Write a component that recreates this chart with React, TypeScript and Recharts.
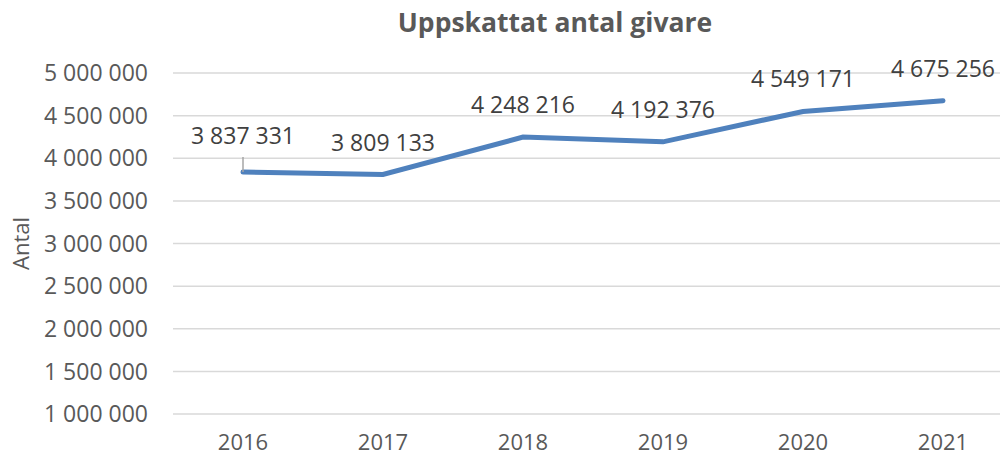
import { CartesianGrid, LabelList, Line, LineChart, XAxis, YAxis } from "recharts";

// Uppskattat antal givare per år
const years = ["2016", "2017", "2018", "2019", "2020", "2021"];
const givare = [3837331, 3809133, 4248216, 4192376, 4549171, 4675256];
const yTicks = [1000000, 1500000, 2000000, 2500000, 3000000, 3500000, 4000000, 4500000, 5000000];

const data = years.map((year, i) => ({ year, antal: givare[i] }));

const FONT = "'Open Sans', sans-serif";

function fmt(v: number): string {
  return String(v).replace(/\B(?=(\d{3})+(?!\d))/g, " ");
}

// Datalabel ovanför punkten; första har en ledarlinje som i Excel.
function PointLabel(props: any) {
  const { x, y, value, index } = props;
  const off = index === 0 ? 28 : 24;
  return (
    <g>
      {index === 0 && (
        <line x1={x} y1={y - 15} x2={x} y2={y} stroke="#a6a6a6" strokeWidth={1.5} />
      )}
      <text
        x={x}
        y={y - off}
        textAnchor="middle"
        fill="#404040"
        fontSize={23}
        fontFamily={FONT}
      >
        {fmt(value)}
      </text>
    </g>
  );
}

export default function App() {
  return (
    <div
      style={{
        position: "fixed",
        left: 0,
        top: 0,
        width: 1000,
        height: 458,
        overflow: "hidden",
        background: "#fff",
        fontFamily: FONT,
      }}
    >
      <div
        style={{
          position: "absolute",
          left: 555,
          top: 9,
          transform: "translateX(-50%)",
          whiteSpace: "nowrap",
          fontSize: 26.5,
          lineHeight: "26.5px",
          fontWeight: 700,
          color: "#595959",
        }}
      >
        Uppskattat antal givare
      </div>
      <LineChart
        width={1020}
        height={458}
        data={data}
        margin={{ top: 73, right: 7, bottom: 0, left: 0 }}
      >
        <CartesianGrid vertical={false} stroke="#d9d9d9" strokeWidth={1.5} />
        <XAxis
          dataKey="year"
          height={44}
          axisLine={false}
          tickLine={false}
          tickSize={0}
          tickMargin={20}
          padding={{ left: 70, right: 70 }}
          tick={{ fill: "#595959", fontSize: 22, fontFamily: FONT }}
        />
        <YAxis
          width={173}
          domain={[1000000, 5000000]}
          ticks={yTicks}
          axisLine={false}
          tickLine={false}
          tickSize={0}
          tickMargin={25}
          tickFormatter={fmt}
          tick={{ fill: "#595959", fontSize: 23, fontFamily: FONT }}
          label={{
            value: "Antal",
            angle: -90,
            position: "insideLeft",
            offset: 21,
            textAnchor: "middle",
            fill: "#595959",
            fontSize: 22,
            fontFamily: FONT,
          }}
        />
        <Line
          dataKey="antal"
          stroke="#4F81BD"
          strokeWidth={5}
          strokeLinecap="round"
          dot={false}
          isAnimationActive={false}
        >
          <LabelList dataKey="antal" content={<PointLabel />} />
        </Line>
      </LineChart>
    </div>
  );
}
